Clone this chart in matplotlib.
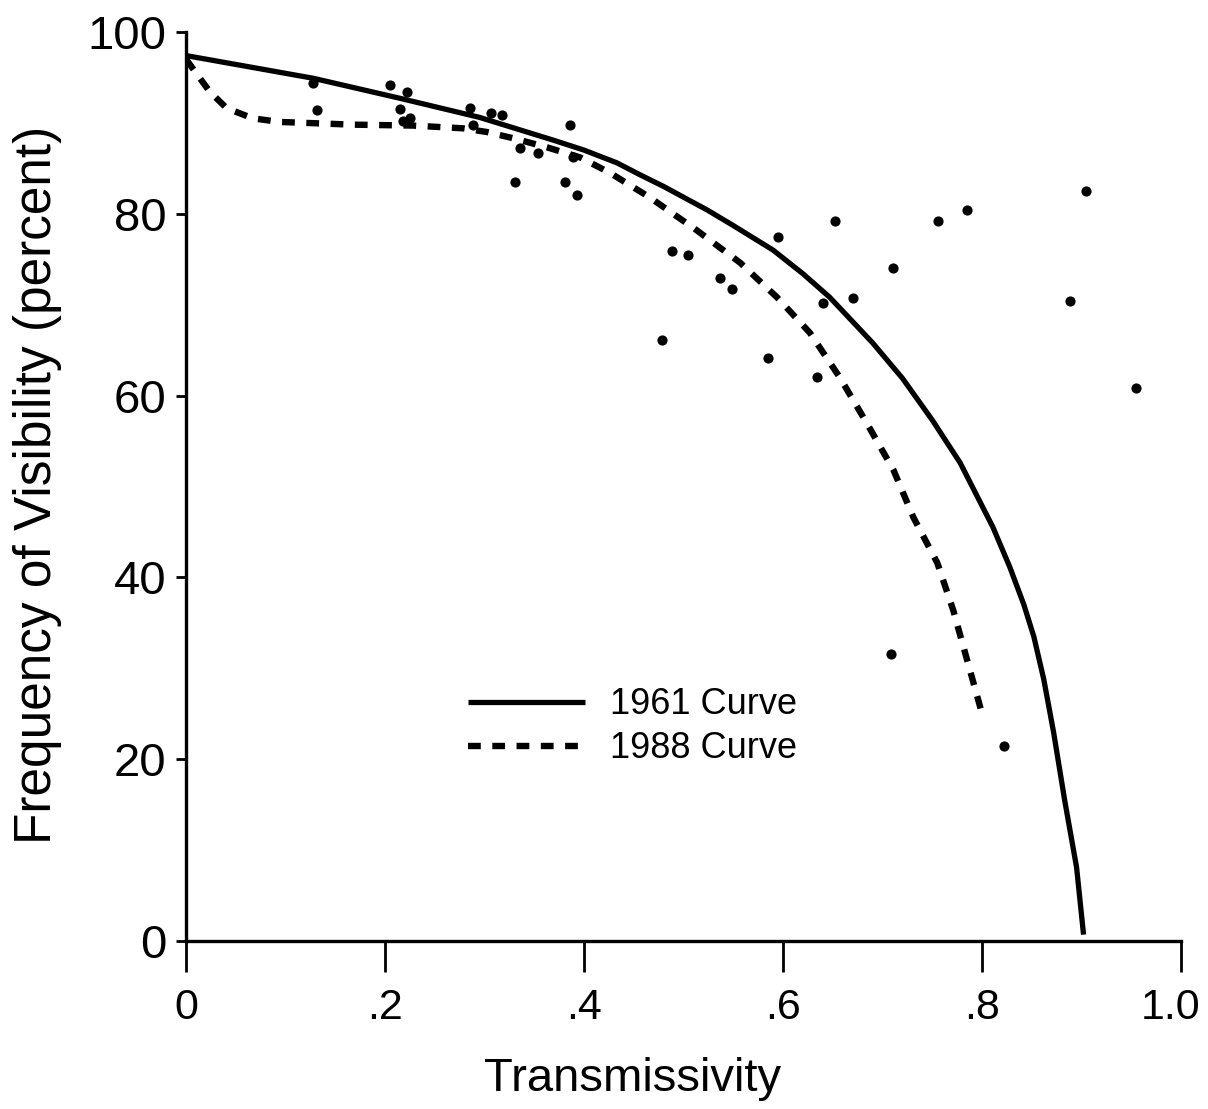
import matplotlib
matplotlib.use("Agg")
import matplotlib.pyplot as plt
import matplotlib.transforms as mtransforms

plt.rcParams['font.family'] = ['Liberation Sans', 'DejaVu Sans']

# 1961 curve
curve61_x = [0.0, 0.128, 0.215, 0.295, 0.369, 0.40, 0.433, 0.456, 0.48, 0.524,
             0.55, 0.590, 0.62, 0.647, 0.690, 0.72, 0.750, 0.778, 0.811, 0.828,
             0.842, 0.852, 0.862, 0.872, 0.883, 0.895, 0.902]
curve61_y = [97.4, 94.9, 92.7, 90.6, 88.1, 87.0, 85.6, 84.3, 83.0, 80.4,
             78.7, 76.0, 73.4, 70.8, 65.8, 61.9, 57.3, 52.6, 45.5, 41.1,
             37.0, 33.5, 28.8, 22.9, 15.5, 8.1, 0.7]

# 1988 curve
curve88_x = [0.0, 0.004, 0.024, 0.041, 0.067, 0.094, 0.168, 0.228, 0.278, 0.302,
             0.329, 0.363, 0.396, 0.426, 0.466, 0.513, 0.557, 0.594, 0.627, 0.657,
             0.684, 0.711, 0.731, 0.755, 0.771, 0.785, 0.80]
curve88_y = [97.0, 96.4, 93.4, 91.6, 90.5, 90.1, 89.8, 89.7, 89.4, 89.0,
             88.3, 87.3, 86.2, 84.5, 81.8, 78.2, 74.6, 70.8, 66.9, 62.0,
             57.0, 51.8, 46.6, 41.6, 36.4, 30.9, 25.0]

# observed points
obs_x = [0.128, 0.132, 0.205, 0.222, 0.215, 0.225, 0.218, 0.285, 0.306, 0.318,
         0.288, 0.386, 0.336, 0.354, 0.389, 0.331, 0.381, 0.393, 0.488, 0.504,
         0.537, 0.549, 0.595, 0.652, 0.756, 0.785, 0.710, 0.670, 0.640, 0.478,
         0.585, 0.634, 0.904, 0.888, 0.955, 0.708, 0.822]
obs_y = [94.4, 91.4, 94.2, 93.4, 91.5, 90.5, 90.2, 91.6, 91.1, 90.9,
         89.8, 89.8, 87.2, 86.7, 86.2, 83.5, 83.5, 82.1, 75.9, 75.5,
         72.9, 71.7, 77.4, 79.2, 79.2, 80.4, 74.0, 70.7, 70.2, 66.1,
         64.1, 62.0, 82.5, 70.4, 60.8, 31.6, 21.5]

x_ticks = [0, 0.2, 0.4, 0.6, 0.8, 1.0]
x_tick_labels = ['0', '.2', '.4', '.6', '.8', '1.0']
y_ticks = [0, 20, 40, 60, 80, 100]

fig = plt.figure(figsize=(12.08, 11.09), dpi=100)
ax = fig.add_axes([0.154, 0.1515, 0.8237, 0.8197])

ax.plot(curve61_x, curve61_y, color='black', lw=3.8, solid_capstyle='butt',
        solid_joinstyle='round', label='1961 Curve')
ax.plot(curve88_x, curve88_y, color='black', lw=4.6, linestyle=(0, (2.0, 1.8)),
        dash_capstyle='butt', label='1988 Curve')
ax.scatter(obs_x, obs_y, s=40, color='black', zorder=3)

ax.set_xlim(0, 1.0)
ax.set_ylim(0, 100)
ax.set_xticks(x_ticks)
ax.set_xticklabels(x_tick_labels)
ax.set_yticks(y_ticks)

for side in ['top', 'right']:
    ax.spines[side].set_visible(False)
for side in ['left', 'bottom']:
    ax.spines[side].set_linewidth(2.4)
    ax.spines[side].set_clip_on(False)

ax.tick_params(axis='x', direction='out', length=22, width=2, labelsize=31, pad=12)
ax.tick_params(axis='y', direction='out', length=7, width=2, labelsize=34, pad=7)

# pull the last x label in a little, as in the original
last = ax.get_xticklabels()[-1]
last.set_transform(last.get_transform() +
                   mtransforms.ScaledTranslation(-0.1, 0, fig.dpi_scale_trans))

ax.set_xlabel('Transmissivity', fontsize=34)
ax.xaxis.set_label_coords(0.449, -0.128)
ax.set_ylabel('Frequency of Visibility (percent)', fontsize=37)
ax.yaxis.set_label_coords(-0.125, 0.502)

ax.legend(loc='upper left', bbox_to_anchor=(0.283, 0.279), frameon=False,
          fontsize=26, handlelength=3.25, handletextpad=0.7, labelspacing=0.25,
          borderpad=0, borderaxespad=0)

fig.savefig('out.png', dpi=100)
